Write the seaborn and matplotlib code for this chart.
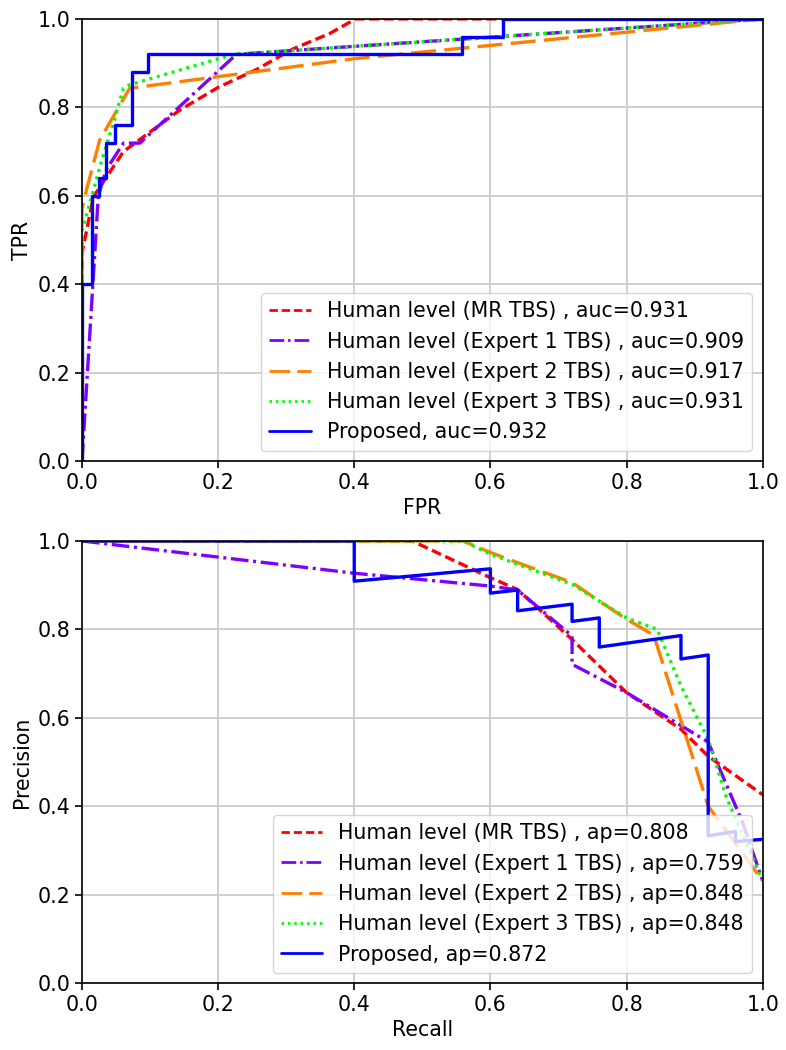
import matplotlib
matplotlib.use("Agg")
import matplotlib.pyplot as plt
import seaborn as sns

# ROC curves (FPR, TPR)
roc_fpr_mr = [0.0, 0.0, 0.017, 0.061, 0.144, 0.20, 0.257, 0.31, 0.364, 0.402, 1.0]
roc_tpr_mr = [0.0, 0.47, 0.598, 0.70, 0.794, 0.845, 0.886, 0.932, 0.967, 1.0, 1.0]

roc_fpr_e1 = [0.0, 0.024, 0.036, 0.061, 0.085, 0.227, 1.0]
roc_tpr_e1 = [0.0, 0.60, 0.66, 0.719, 0.719, 0.92, 1.0]

roc_fpr_e2 = [0.0, 0.0, 0.004, 0.026, 0.07, 0.4, 1.0]
roc_tpr_e2 = [0.0, 0.57, 0.598, 0.726, 0.843, 0.91, 1.0]

roc_fpr_e3 = [0.0, 0.0, 0.029, 0.046, 0.061, 0.07, 0.203, 0.227, 1.0]
roc_tpr_e3 = [0.0, 0.52, 0.68, 0.764, 0.843, 0.851, 0.911, 0.92, 1.0]

roc_fpr_prop = [0.0, 0.0, 0.014, 0.014, 0.025, 0.025, 0.036, 0.036, 0.048, 0.048,
                0.073, 0.073, 0.097, 0.097, 0.559, 0.559, 0.619, 0.619, 1.0]
roc_tpr_prop = [0.0, 0.4, 0.4, 0.6, 0.6, 0.64, 0.64, 0.72, 0.72, 0.76,
                0.76, 0.88, 0.88, 0.92, 0.92, 0.96, 0.96, 1.0, 1.0]

# Precision-recall curves
pr_rec_mr = [0.0, 0.485, 0.6, 0.64, 0.72, 0.8, 0.88, 0.92, 1.0]
pr_prec_mr = [1.0, 1.0, 0.917, 0.89, 0.777, 0.657, 0.574, 0.513, 0.426]

pr_rec_e1 = [0.0, 0.4, 0.6, 0.64, 0.72, 0.72, 0.8, 0.92, 0.97, 1.0]
pr_prec_e1 = [1.0, 0.927, 0.898, 0.889, 0.785, 0.721, 0.657, 0.545, 0.365, 0.231]

pr_rec_e2 = [0.0, 0.56, 0.6, 0.64, 0.72, 0.76, 0.8, 0.84, 0.92, 1.0]
pr_prec_e2 = [1.0, 1.0, 0.974, 0.951, 0.906, 0.864, 0.823, 0.787, 0.40, 0.231]

pr_rec_e3 = [0.0, 0.56, 0.6, 0.72, 0.8, 0.845, 0.88, 0.92, 0.946, 1.0]
pr_prec_e3 = [1.0, 1.0, 0.97, 0.902, 0.826, 0.80, 0.672, 0.551, 0.423, 0.231]

pr_rec_prop = [0.0, 0.4, 0.4, 0.6, 0.6, 0.64, 0.64, 0.72, 0.72, 0.76, 0.76,
               0.88, 0.88, 0.92, 0.92, 0.96, 0.96, 1.0]
pr_prec_prop = [1.0, 1.0, 0.909, 0.937, 0.882, 0.889, 0.842, 0.857, 0.818, 0.826, 0.76,
                0.786, 0.733, 0.742, 0.333, 0.343, 0.32, 0.325]

names = ["Human level (MR TBS) ", "Human level (Expert 1 TBS) ",
         "Human level (Expert 2 TBS) ", "Human level (Expert 3 TBS) ", "Proposed"]
auc_scores = ["0.931", "0.909", "0.917", "0.931", "0.932"]
ap_scores = ["0.808", "0.759", "0.848", "0.848", "0.872"]

colors = ["#ff0000", "#8000ff", "#ff8000", "#00ff00", "#0000ff"]
styles = [(0, (3.0, 1.4)), (0, (5.3, 1.4, 0.9, 1.4)), (0, (7.5, 2.5)), (0, (0.9, 1.4)), "-"]

sns.set_style("ticks", {"axes.grid": True, "grid.color": "0.8",
                        "axes.edgecolor": "black"})
plt.rcParams["font.family"] = ["DejaVu Sans"]
plt.rcParams["font.size"] = 14.8
plt.rcParams["text.color"] = "black"
plt.rcParams["axes.labelcolor"] = "black"

fig = plt.figure(figsize=(7.86, 10.5), dpi=100)
ax1 = fig.add_axes([0.1043, 0.561, 0.866, 0.421])
ax2 = fig.add_axes([0.1043, 0.0638, 0.866, 0.421])

roc = [(roc_fpr_mr, roc_tpr_mr), (roc_fpr_e1, roc_tpr_e1), (roc_fpr_e2, roc_tpr_e2),
       (roc_fpr_e3, roc_tpr_e3), (roc_fpr_prop, roc_tpr_prop)]
pr = [(pr_rec_mr, pr_prec_mr), (pr_rec_e1, pr_prec_e1), (pr_rec_e2, pr_prec_e2),
      (pr_rec_e3, pr_prec_e3), (pr_rec_prop, pr_prec_prop)]

for i in range(5):
    sns.lineplot(x=roc[i][0], y=roc[i][1], ax=ax1, sort=False, estimator=None,
                 color=colors[i], linestyle=styles[i], linewidth=2.4,
                 label=names[i] + ", auc=" + auc_scores[i])
    sns.lineplot(x=pr[i][0], y=pr[i][1], ax=ax2, sort=False, estimator=None,
                 color=colors[i], linestyle=styles[i], linewidth=2.4,
                 label=names[i] + ", ap=" + ap_scores[i])

ticks = [0.0, 0.2, 0.4, 0.6, 0.8, 1.0]
for ax, xl, yl in [(ax1, "FPR", "TPR"), (ax2, "Recall", "Precision")]:
    ax.set_xlim(0, 1)
    ax.set_ylim(0, 1)
    ax.set_xticks(ticks)
    ax.set_yticks(ticks)
    ax.set_xlabel(xl)
    ax.set_ylabel(yl)
    ax.grid(True, color="0.8", linewidth=1.3)
    for s in ax.spines.values():
        s.set_color("black")
        s.set_linewidth(1.2)
    ax.tick_params(direction="out", length=5, width=1.2, colors="black", labelsize=14.8)
    leg = ax.legend(loc="lower right", fontsize=14.8, framealpha=0.8)
    for lh in leg.get_lines():
        lh.set_linewidth(2.0)

fig.savefig("out.png", dpi=100)
